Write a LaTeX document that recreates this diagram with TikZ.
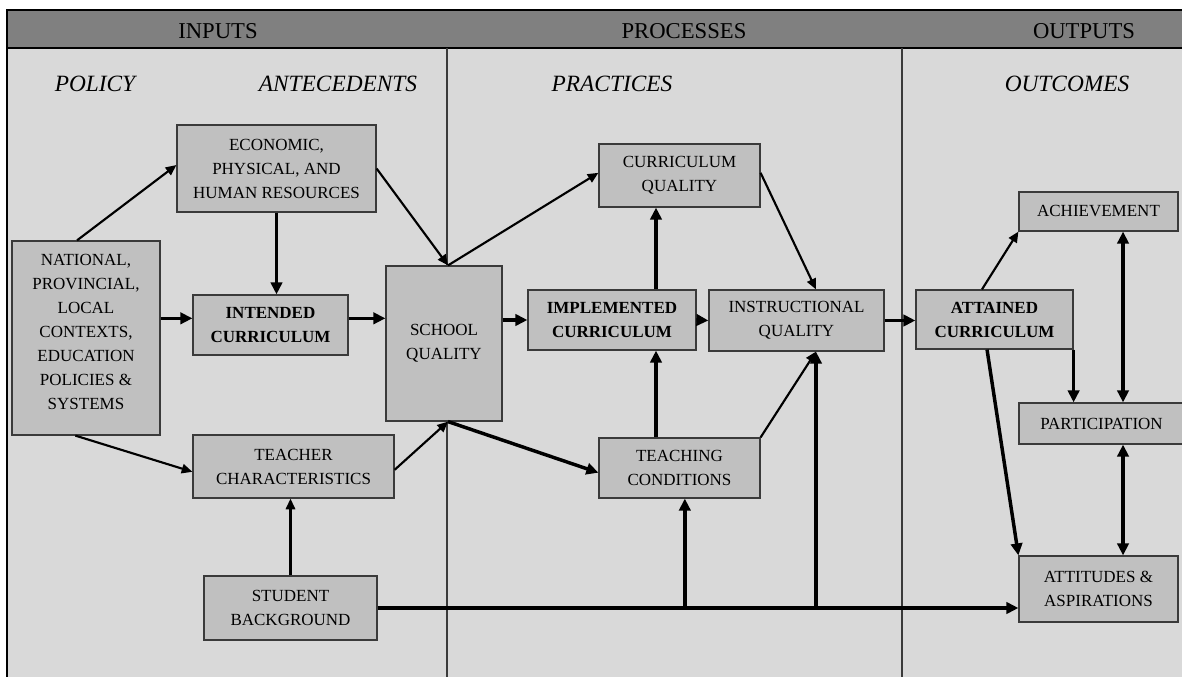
\documentclass[tikz,border=0pt]{standalone}
\usepackage{fontspec}
\setmainfont{Liberation Serif}
\usetikzlibrary{arrows.meta,calc}
\definecolor{bandgray}{HTML}{808080}
\definecolor{panelgray}{HTML}{D9D9D9}
\definecolor{boxgray}{HTML}{C0C0C0}
\definecolor{rulegray}{HTML}{3A3A3A}
\begin{document}
\begin{tikzpicture}[x=0.75pt,y=-0.75pt,
  box/.style={draw=rulegray, line width=0.9pt, fill=boxgray, inner sep=0pt,
    align=center, font=\fontsize{12.75}{18}\selectfont},
  boldbox/.style={box, font=\fontsize{12.75}{18}\selectfont\bfseries},
  bandtext/.style={font=\fontsize{17}{20}\selectfont},
  columntext/.style={font=\fontsize{17.5}{20}\selectfont\itshape},
  link/.style={line width=1.6pt, -{Triangle[length=8pt,width=7pt]}},
  heavy/.style={line width=2.6pt, -{Triangle[length=9pt,width=8.5pt]}},
  twoway/.style={line width=2.4pt, {Triangle[length=9pt,width=8.5pt]}-{Triangle[length=9pt,width=8.5pt]}}
]
\useasboundingbox (0,0) rectangle (1182,677);
\clip (0,0) rectangle (1182,677);

% frame, header band and column rules
\fill[panelgray] (7,10) rectangle (1190,690);
\fill[bandgray] (7,10) rectangle (1190,48);
\draw[line width=1pt] (1190,10) -- (7,10) -- (7,690);
\draw[line width=1pt] (7,48) -- (1190,48);
\draw[rulegray, line width=1.1pt] (447,48) -- (447,690);
\draw[rulegray, line width=1.1pt] (902,48) -- (902,690);

% column headings
\node[bandtext] (hin)  at (218,31) {INPUTS};
\node[bandtext] (hpro) at (684,31) {PROCESSES};
\node[bandtext] (hout) at (1084,31) {OUTPUTS};
\node[columntext] (cpol) at (95,84) {POLICY};
\node[columntext] (cant) at (338,84) {ANTECEDENTS};
\node[columntext] (cpra) at (612,84) {PRACTICES};
\node[columntext] (cout) at (1067,84) {OUTCOMES};

% boxes
\node[box, minimum width=149.25pt, minimum height=65.25pt] (econ) at (276.5,168.5)
  {ECONOMIC,\\PHYSICAL, AND\\HUMAN RESOURCES};
\node[box, minimum width=111pt, minimum height=145.5pt, text depth=9pt] (nat) at (86,338)
  {NATIONAL,\\PROVINCIAL,\\LOCAL\\CONTEXTS,\\EDUCATION\\POLICIES \&\\SYSTEMS};
\node[boldbox, minimum width=116.25pt, minimum height=45pt] (intended) at (270.5,325)
  {INTENDED\\CURRICULUM};
\node[box, minimum width=87pt, minimum height=116.25pt] (school) at (444,343.5)
  {SCHOOL\\QUALITY};
\node[box, minimum width=150.75pt, minimum height=47.25pt] (teacher) at (293.5,466.5)
  {TEACHER\\CHARACTERISTICS};
\node[box, minimum width=129.75pt, minimum height=48pt] (student) at (290.5,608)
  {STUDENT\\BACKGROUND};
\node[box, minimum width=120.75pt, minimum height=47.25pt] (curq) at (679.5,175.5)
  {CURRICULUM\\QUALITY};
\node[boldbox, minimum width=126pt, minimum height=45pt] (impl) at (612,320)
  {IMPLEMENTED\\CURRICULUM};
\node[box, minimum width=131.25pt, minimum height=45.75pt] (instr) at (796.5,320.5)
  {INSTRUCTIONAL\\QUALITY};
\node[box, minimum width=120.75pt, minimum height=45pt] (teachc) at (679.5,468)
  {TEACHING\\CONDITIONS};
\node[boldbox, minimum width=117.75pt, minimum height=44.25pt] (attained) at (994.5,319.5)
  {ATTAINED\\CURRICULUM};
\node[box, minimum width=119.25pt, minimum height=29.25pt] (achiev) at (1098.5,211.5)
  {ACHIEVEMENT};
\node[box, minimum width=123.75pt, minimum height=30.75pt] (partic) at (1101.5,423.5)
  {PARTICIPATION};
\node[box, minimum width=119.25pt, minimum height=49.5pt] (attit) at (1098.5,589)
  {ATTITUDES \&\\ASPIRATIONS};

% attachment points
\coordinate (natTop) at ([xshift=-6.75pt]nat.north);
\coordinate (natBot) at ([xshift=-8pt]nat.south);
\coordinate (econIn) at ([yshift=2.6pt]econ.west);
\coordinate (intIn) at ([yshift=5pt]intended.west);
\coordinate (intOut) at ([yshift=5pt]intended.east);
\coordinate (sqTop) at ([xshift=3pt]school.north);
\coordinate (sqBot) at ([xshift=3pt]school.south);
\coordinate (tchIn) at ([yshift=-4pt]teacher.west);
\coordinate (tchOut) at ([yshift=-2.5pt]teacher.east);
\coordinate (cqIn) at ([yshift=2pt]curq.west);
\coordinate (cqOut) at ([yshift=2pt]curq.east);
\coordinate (tcIn) at ([yshift=-3.5pt]teachc.west);
\coordinate (implTop) at ([xshift=33pt]impl.north);
\coordinate (implBot) at ([xshift=33pt]impl.south);
\coordinate (iqTop) at ([xshift=14.6pt]instr.north);
\coordinate (iqBot) at ([xshift=14.6pt]instr.south);
\coordinate (tcFoot) at ([xshift=4pt]teachc.south);
\coordinate (acTop) at ([xshift=-9.4pt]attained.north);
\coordinate (acBot) at ([xshift=-5.6pt]attained.south);
\coordinate (achFoot) at ([xshift=18.4pt]achiev.south);
\coordinate (ptFoot) at (achFoot |- partic.south);

% inputs
\draw[link] (natTop) -- (econIn);
\draw[heavy] (econ.south) -- (econ.south |- intended.north);
\draw[heavy] (intIn -| nat.east) -- (intIn);
\draw[heavy] (intOut) -- (intOut -| school.west);
\draw[link] (econ.east) -- (sqTop);
\draw[link] (natBot) -- (tchIn);
\draw[link] (tchOut) -- (sqBot);
\draw[link] (student.north) -- (student.north |- teacher.south);

% processes
\draw[link] (sqTop) -- (cqIn);
\draw[heavy] (sqBot) -- (tcIn);
\draw[heavy] (impl.west -| school.east) -- (impl.west);
\draw[heavy] (implTop) -- (implTop |- curq.south);
\draw[heavy] (implBot |- teachc.north) -- (implBot);
\draw[heavy] (impl.east) -- (instr.west);
\draw[link] (cqOut) -- (iqTop);
\draw[link] (teachc.north east) -- (iqBot);

% student background feeding forward
\draw[heavy] (student.east) -- (student.east -| attit.west);
\draw[heavy] (tcFoot |- student.east) -- (tcFoot);
\draw[heavy] (iqBot |- student.east) -- (iqBot);

% outputs
\draw[heavy] (instr.east) -- (attained.west |- instr.east);
\draw[link] (acTop) -- (achiev.south west);
\draw[heavy] (attained.south east) -- (attained.south east |- partic.north);
\draw[twoway] (achFoot) -- (achFoot |- partic.north);
\draw[twoway] (ptFoot) -- (ptFoot |- attit.north);
\draw[heavy] (acBot) -- (attit.north west);
\end{tikzpicture}
\end{document}
